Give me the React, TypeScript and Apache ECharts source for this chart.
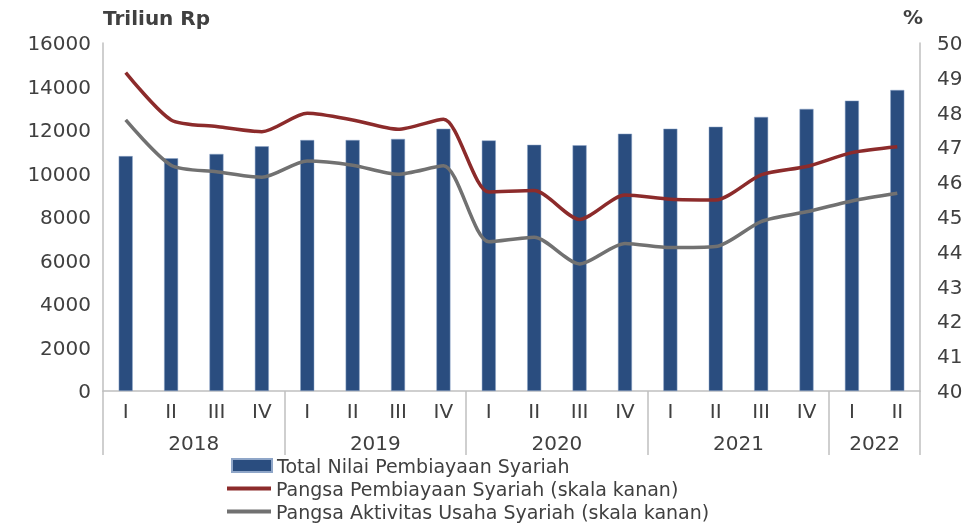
import React, { useEffect, useRef } from "react";
import * as echarts from "echarts";

const quarters = ["I", "II", "III", "IV", "I", "II", "III", "IV", "I", "II", "III", "IV", "I", "II", "III", "IV", "I", "II"];
const years = ["2018", "2019", "2020", "2021", "2022"];
const yearCenters = [2, 6, 10, 14, 17];
const yearBounds = [0, 4, 8, 12, 16, 18];
const totalPembiayaan = [10800, 10700, 10900, 11250, 11540, 11540, 11590, 12060, 11520, 11320, 11300, 11830, 12060, 12150, 12600, 12970, 13350, 13840];
const pangsaPembiayaan = [49.15, 47.79, 47.6, 47.45, 47.98, 47.79, 47.52, 47.81, 45.72, 45.76, 44.93, 45.63, 45.51, 45.49, 46.21, 46.45, 46.85, 47.02];
const pangsaAktivitas = [47.79, 46.49, 46.3, 46.14, 46.61, 46.49, 46.23, 46.47, 44.29, 44.42, 43.65, 44.24, 44.12, 44.15, 44.87, 45.15, 45.46, 45.68];

const FONT = "DejaVu Sans";
const TXT = "#404040";
const AXIS = "#BFBFBF";
const names = [
  "Total Nilai Pembiayaan Syariah",
  "Pangsa Pembiayaan Syariah (skala kanan)",
  "Pangsa Aktivitas Usaha Syariah (skala kanan)",
];

export default function App() {
  const ref = useRef<HTMLDivElement>(null);
  useEffect(() => {
    if (!ref.current) return;
    const chart = echarts.init(ref.current, null, { renderer: "svg" });
    chart.setOption({
      animation: false,
      textStyle: { fontFamily: FONT, color: TXT },
      grid: { left: 103, right: 59, top: 43, bottom: 135, containLabel: false },
      legend: [
        {
          orient: "vertical",
          left: 226,
          top: 451,
          padding: 5,
          itemWidth: 40,
          itemHeight: 13,
          textStyle: { fontFamily: FONT, fontSize: 19, color: TXT },
          data: [{ name: names[0], icon: "rect" }],
        },
        {
          orient: "vertical",
          left: 222,
          top: 474,
          height: 60,
          padding: 5,
          itemWidth: 44,
          itemHeight: 4,
          itemGap: 4,
          textStyle: { fontFamily: FONT, fontSize: 19, color: TXT },
          data: [
            { name: names[1], icon: "rect" },
            { name: names[2], icon: "rect" },
          ],
        },
      ],
      xAxis: [
        {
          type: "category",
          data: quarters,
          position: "bottom",
          axisLine: { lineStyle: { color: AXIS, width: 1.5 } },
          axisTick: { show: false },
          axisLabel: { color: TXT, fontFamily: FONT, fontSize: 20, margin: 10 },
        },
        {
          type: "value",
          min: 0,
          max: 18,
          position: "bottom",
          axisLine: { show: false },
          splitLine: { show: false },
          axisTick: {
            show: true,
            customValues: yearBounds,
            length: 64,
            inside: false,
            lineStyle: { color: AXIS, width: 1.5 },
          },
          axisLabel: {
            customValues: yearCenters,
            color: TXT,
            fontFamily: FONT,
            fontSize: 20,
            margin: 42,
            formatter: (v: number) => {
              const i = yearCenters.indexOf(v);
              return i >= 0 ? years[i] : "";
            },
          },
        },
      ],
      yAxis: [
        {
          type: "value",
          min: 0,
          max: 16000,
          interval: 2000,
          name: "Triliun Rp",
          nameLocation: "end",
          nameGap: 25,
          nameTextStyle: { fontFamily: FONT, fontSize: 20, fontWeight: "bold", color: TXT, align: "left", verticalAlign: "middle" },
          axisLine: { show: true, lineStyle: { color: AXIS, width: 1.5 } },
          axisTick: { show: false },
          splitLine: { show: false },
          axisLabel: { color: TXT, fontFamily: FONT, fontSize: 20, margin: 12, formatter: (v: number) => String(v) },
        },
        {
          type: "value",
          min: 40,
          max: 50,
          interval: 1,
          position: "right",
          name: "%",
          nameLocation: "end",
          nameGap: 26,
          nameTextStyle: { fontFamily: FONT, fontSize: 20, fontWeight: "bold", color: TXT, align: "right", verticalAlign: "middle", padding: [0, -3, 0, 0] },
          axisLine: { show: true, lineStyle: { color: AXIS, width: 1.5 } },
          axisTick: { show: false },
          splitLine: { show: false },
          axisLabel: { color: TXT, fontFamily: FONT, fontSize: 20, margin: 17 },
        },
      ],
      series: [
        {
          name: names[0],
          type: "bar",
          data: totalPembiayaan,
          xAxisIndex: 0,
          yAxisIndex: 0,
          barWidth: 14,
          itemStyle: { color: "#2A4D7F", borderColor: "#8FA6C8", borderWidth: 0.5 },
        },
        {
          name: names[1],
          type: "line",
          data: pangsaPembiayaan,
          xAxisIndex: 0,
          yAxisIndex: 1,
          smooth: 0.25,
          symbol: "none",
          lineStyle: { color: "#8C2B2B", width: 3.5 },
          itemStyle: { color: "#8C2B2B" },
        },
        {
          name: names[2],
          type: "line",
          data: pangsaAktivitas,
          xAxisIndex: 0,
          yAxisIndex: 1,
          smooth: 0.25,
          symbol: "none",
          lineStyle: { color: "#717171", width: 3.5 },
          itemStyle: { color: "#717171" },
        },
      ],
    });
    return () => chart.dispose();
  }, []);
  return <div ref={ref} style={{ width: 979, height: 526, position: "fixed", left: 0, top: 0 }} />;
}
